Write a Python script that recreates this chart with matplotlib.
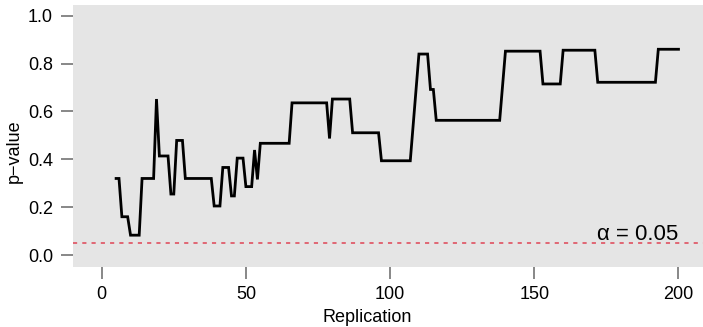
import numpy as np
import matplotlib
matplotlib.use("Agg")
import matplotlib.pyplot as plt

# ---- data (breakpoints of the p-value trace) ----
replication = [5, 6, 7, 9, 10, 13, 14, 18, 19, 20, 23, 24, 25, 26, 28, 29,
               38, 39, 41, 42, 44, 45, 46, 47, 49, 50, 52, 53, 54, 55, 65, 66,
               78, 79, 80, 86, 87, 96, 97, 107, 110, 113, 114, 115, 116, 138,
               140, 152, 153, 159, 160, 171, 172, 192, 193, 200]
p_value = [0.32, 0.32, 0.16, 0.16, 0.083, 0.083, 0.32, 0.32, 0.652, 0.414,
           0.414, 0.255, 0.255, 0.479, 0.479, 0.32,
           0.32, 0.205, 0.205, 0.366, 0.366, 0.247, 0.247, 0.405, 0.405,
           0.286, 0.286, 0.439, 0.316, 0.467, 0.467, 0.636,
           0.636, 0.487, 0.652, 0.652, 0.511, 0.511, 0.394, 0.394, 0.84,
           0.84, 0.692, 0.692, 0.563, 0.563,
           0.852, 0.852, 0.715, 0.715, 0.856, 0.856, 0.722, 0.722, 0.86, 0.86]
alpha = 0.05
x_ticks = [0, 50, 100, 150, 200]
y_ticks = [0.0, 0.2, 0.4, 0.6, 0.8, 1.0]

plt.rcParams['font.family'] = ['Liberation Sans', 'DejaVu Sans']

W, H = 703, 327
fig = plt.figure(figsize=(W / 100, H / 100), dpi=100)
ax = fig.add_axes([73 / W, (H - 267) / H, (703 - 73) / W, (267 - 5) / H])
ax.set_facecolor('#E5E5E5')
for s in ax.spines.values():
    s.set_visible(False)

ax.plot(replication, p_value, color='black', lw=2.0, solid_joinstyle='miter')
ax.axhline(alpha, color='#DF4A5A', lw=1.15, dashes=(2.6, 3.2))
ax.text(200, 0.063, 'α = 0.05', ha='right', va='baseline', fontsize=16)

ax.set_xlim(-9.95, 208.5)
ax.set_ylim(-0.050, 1.045)
ax.set_xticks(x_ticks)
ax.set_xticklabels([str(t) for t in x_ticks])
ax.set_yticks(y_ticks)
ax.set_yticklabels([f'{t:.1f}' for t in y_ticks])
ax.tick_params(axis='both', length=8.6, width=1.44, color='#8A8A8A',
               labelsize=13, labelcolor='black')
ax.tick_params(axis='x', pad=5)
ax.tick_params(axis='y', pad=5.8)

fig.text(367 / W, (H - 322.5) / H, 'Replication', ha='center', va='baseline',
         fontsize=13)
fig.text(14 / W, 1 - 151 / H, 'p\u2212value', ha='center', va='center',
         rotation=90, fontsize=13)

fig.savefig('out.png', dpi=100)
